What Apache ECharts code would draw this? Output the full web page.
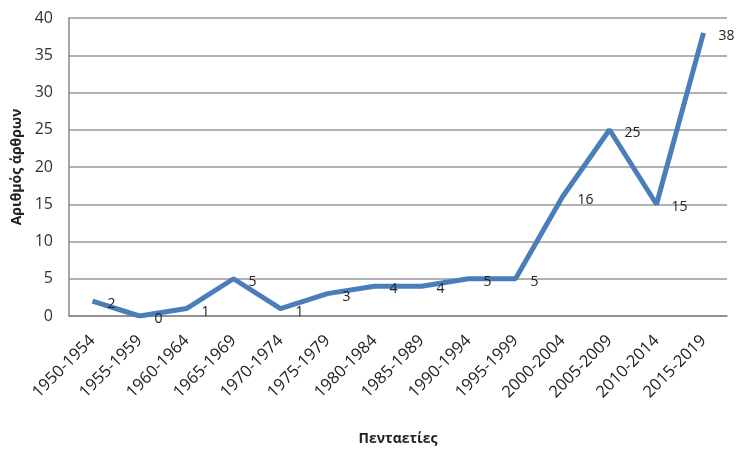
<!DOCTYPE html>
<html><head><meta charset="utf-8">
<script src="https://cdn.jsdelivr.net/npm/echarts@6/dist/echarts.min.js"></script>
<style>html,body{margin:0;padding:0;background:#fff}#c{width:737px;height:451px}</style>
</head><body><div id="c"></div>
<script>
const categories = ['1950-1954','1955-1959','1960-1964','1965-1969','1970-1974','1975-1979','1980-1984','1985-1989','1990-1994','1995-1999','2000-2004','2005-2009','2010-2014','2015-2019'];
const values = [2,0,1,5,1,3,4,4,5,5,16,25,15,38];
const yTicks = [0,5,10,15,20,25,30,35,40];
const chart = echarts.init(document.getElementById('c'));
chart.setOption({
  animation:false,
  color:['#4a7ebb'],
  grid:{left:69,right:10,top:18,bottom:132,containLabel:false},
  xAxis:{type:'category',data:categories,boundaryGap:true,
    name:'Πενταετίες',nameLocation:'middle',nameGap:116,
    nameTextStyle:{fontFamily:'Open Sans',fontWeight:'bold',fontSize:14,color:'#222'},
    axisLine:{lineStyle:{color:'#888',width:1.5}},axisTick:{show:false},
    axisLabel:{rotate:45,margin:22,fontFamily:'Open Sans',fontSize:16.5,color:'#222',interval:0}},
  yAxis:{type:'value',min:0,max:40,interval:5,
    name:'Αριθμός άρθρων',nameLocation:'middle',nameGap:42,nameRotate:90,
    nameTextStyle:{fontFamily:'Open Sans',fontWeight:'bold',fontSize:14,color:'#222'},
    axisLine:{show:true,lineStyle:{color:'#888',width:1.5}},axisTick:{show:false},
    axisLabel:{fontFamily:'Open Sans',fontSize:16,color:'#333',margin:16,
      formatter:v=>yTicks.includes(v)?String(v):''},
    splitLine:{lineStyle:{color:'#999',width:1.5}}},
  series:[{type:'line',data:values,symbol:'circle',symbolSize:2,showSymbol:true,showAllSymbol:true,
    itemStyle:{color:'rgba(74,126,187,0)',borderWidth:0},
    lineStyle:{color:'#4a7ebb',width:5},
    labelLayout:{hideOverlap:false},
    label:{show:true,position:[16,4],align:'left',verticalAlign:'middle',fontFamily:'Open Sans',fontSize:14,color:'#222'}}]
});
</script></body></html>
